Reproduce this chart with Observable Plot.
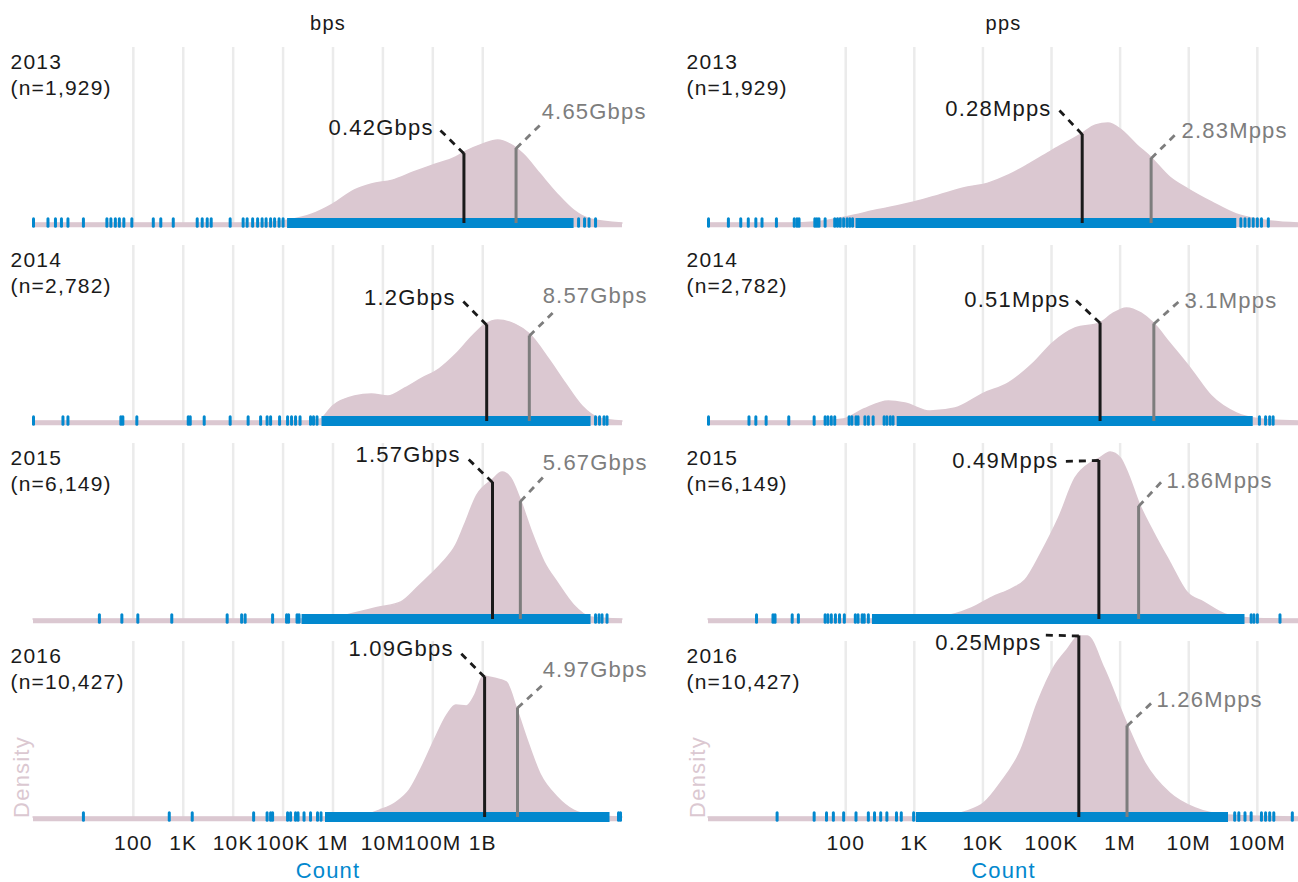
<!DOCTYPE html>
<html><head><meta charset="utf-8">
<script src="https://cdn.jsdelivr.net/npm/d3@7"></script>
<script src="https://cdn.jsdelivr.net/npm/@observablehq/plot@0.6"></script>
<style>
html,body{margin:0;padding:0;background:#fff;}
#chart{position:relative;width:1298px;height:882px;overflow:hidden;}
#chart svg{position:absolute;top:0;}
</style></head><body><div id="chart"></div>
<script>
// ---------- data (x values are log10 of the count) ----------
const years = ["2013", "2014", "2015", "2016"];
const counts = ["1,929", "2,782", "6,149", "10,427"];
const bpsTicks = [1e2, 1e3, 1e4, 1e5, 1e6, 1e7, 1e8, 1e9];
const ppsTicks = [1e2, 1e3, 1e4, 1e5, 1e6, 1e7, 1e8];
const tickLabels = ["100", "1K", "10K", "100K", "1M", "10M", "100M", "1B"];

// density curves: [log10 count, density]
const bpsDensity2013 = [[0,0],[4.5,0],[5.09,.009],[5.59,.03],[6.0,.063],[6.44,.11],[6.78,.13],[7.2,.143],[7.62,.17],[8.0,.193],[8.47,.22],[8.64,.237],[9.0,.263],[9.31,.277],[9.56,.263],[9.82,.23],[10.16,.163],[10.5,.097],[10.83,.043],[11.17,.013],[11.8,0]];
const bpsDensity2014 = [[0,0],[5.5,0],[5.76,.007],[6.0,.05],[6.44,.083],[6.78,.09],[7.11,.083],[7.45,.11],[7.79,.143],[8.13,.173],[8.47,.223],[8.8,.283],[9.06,.323],[9.31,.337],[9.65,.323],[9.95,.29],[10.33,.207],[10.66,.127],[11.0,.05],[11.34,.01],[11.8,0]];
const bpsDensity2015 = [[0,0],[5.7,0],[6.0,.004],[6.52,.023],[6.94,.04],[7.37,.057],[7.71,.107],[7.96,.147],[8.21,.19],[8.47,.247],[8.64,.313],[8.89,.413],[9.19,.463],[9.4,.49],[9.57,.47],[9.75,.403],[9.99,.29],[10.24,.19],[10.5,.123],[10.83,.047],[11.17,.007],[11.8,0]];
const bpsDensity2016 = [[0,0],[6.3,0],[6.52,.003],[6.94,.023],[7.28,.05],[7.54,.09],[7.79,.167],[8.04,.257],[8.3,.343],[8.47,.373],[8.68,.37],[8.85,.407],[9.02,.47],[9.23,.463],[9.48,.45],[9.69,.36],[9.9,.257],[10.16,.143],[10.5,.067],[10.83,.023],[11.17,.007],[11.8,0]];
const ppsDensity2013 = [[0,0],[1.2,0],[1.55,.003],[2.0,.02],[2.45,.043],[3.0,.07],[3.36,.093],[3.72,.117],[4.08,.133],[4.38,.16],[4.68,.197],[5.02,.243],[5.44,.297],[5.65,.327],[5.83,.333],[6.01,.313],[6.25,.26],[6.45,.22],[6.73,.153],[7.0,.113],[7.34,.07],[7.7,.03],[8.0,.013],[8.6,0]];
const ppsDensity2014 = [[0,0],[1.6,0],[1.97,.007],[2.27,.04],[2.63,.067],[2.87,.06],[3.24,.033],[3.6,.043],[4.02,.093],[4.38,.127],[4.74,.193],[5.02,.26],[5.35,.31],[5.71,.327],[5.89,.357],[6.1,.377],[6.31,.36],[6.49,.327],[6.73,.26],[7.04,.173],[7.34,.083],[7.7,.027],[8.06,.007],[8.6,0]];
const ppsDensity2015 = [[0,0],[2.4,0],[2.75,.002],[3.36,.007],[3.84,.037],[4.14,.073],[4.44,.103],[4.62,.13],[4.86,.223],[5.11,.337],[5.35,.47],[5.59,.523],[5.71,.537],[5.86,.557],[6.01,.537],[6.13,.48],[6.28,.387],[6.49,.29],[6.73,.19],[6.98,.09],[7.22,.057],[7.58,.013],[8.0,.002],[8.6,0]];
const ppsDensity2016 = [[0,0],[3.0,0],[3.36,.003],[3.78,.02],[4.02,.047],[4.26,.113],[4.56,.223],[4.8,.38],[5.05,.503],[5.23,.557],[5.41,.603],[5.53,.603],[5.77,.497],[6.1,.313],[6.37,.18],[6.73,.08],[7.1,.03],[7.58,.007],[8.6,0]];

// rug: isolated observations (log10) and the dense continuous stretch
const bpsRug2013 = [0,0.29,0.44,0.56,0.69,1.0,1.47,1.55,1.64,1.72,1.81,1.97,2.4,2.55,2.8,3.28,3.38,3.48,3.56,3.94,4.2,4.28,4.39,4.49,4.58,4.66,4.75,4.83,4.92,5.0,10.92,11.04,11.13,11.26];
const bpsRug2014 = [0,0.59,0.69,1.75,1.79,2.07,3.1,3.14,3.42,3.94,4.3,4.55,4.68,4.75,4.93,5.09,5.17,5.25,5.34,5.55,5.61,5.68,11.26,11.34,11.43,11.49];
const bpsRug2015 = [1.32,1.77,2.09,2.77,3.88,4.17,4.24,4.79,5.07,5.11,5.28,5.32,11.26,11.33,11.39,11.49];
const bpsRug2016 = [1.0,2.72,3.18,4.41,4.68,4.75,4.79,5.09,5.15,5.25,5.3,5.42,5.55,5.69,5.76,11.72,11.76];
const bpsRugDense = [[5.09,10.83],[5.78,11.17],[5.38,11.17],[5.85,11.55]];
const ppsRug2013 = [0,0.29,0.47,0.58,0.69,0.78,0.99,1.25,1.29,1.32,1.55,1.58,1.61,1.7,1.84,1.88,1.92,1.97,2.02,2.06,2.1,7.76,7.82,7.88,7.94,8.0,8.06,8.16];
const ppsRug2014 = [0,0.59,0.69,0.84,1.17,1.54,1.7,1.74,1.79,1.84,2.05,2.09,2.15,2.18,2.28,2.33,2.4,2.56,2.6,2.65,2.69,8.03,8.12,8.18,8.23];
const ppsRug2015 = [0.7,0.94,0.97,1.22,1.31,1.7,1.74,1.79,1.85,1.91,1.98,2.14,2.18,2.24,2.27,2.33,7.91,7.95,8.0,8.33];
const ppsRug2016 = [1.0,1.54,1.72,1.82,1.97,2.15,2.33,2.42,2.51,2.6,2.74,2.81,2.99,7.67,7.73,7.82,7.91,8.06,8.12,8.18,8.24,8.51];
const ppsRugDense = [[2.15,7.7],[2.75,7.94],[2.39,7.82],[3.03,7.58]];

// medians and means
const bpsMedian = [0.42e9, 1.2e9, 1.57e9, 1.09e9];
const bpsMean = [4.65e9, 8.57e9, 5.67e9, 4.97e9];
const bpsMedianText = ["0.42Gbps", "1.2Gbps", "1.57Gbps", "1.09Gbps"];
const bpsMeanText = ["4.65Gbps", "8.57Gbps", "5.67Gbps", "4.97Gbps"];
const bpsMedianDensity = [.233, .322, .457, .468];
const bpsMeanDensity = [.25, .285, .393, .365];
const ppsMedian = [0.28e6, 0.51e6, 0.49e6, 0.25e6];
const ppsMean = [2.83e6, 3.1e6, 1.86e6, 1.26e6];
const ppsMedianText = ["0.28Mpps", "0.51Mpps", "0.49Mpps", "0.25Mpps"];
const ppsMeanText = ["2.83Mpps", "3.1Mpps", "1.86Mpps", "1.26Mpps"];
const ppsMedianDensity = [.297, .328, .53, .605];
const ppsMeanDensity = [.217, .325, .377, .305];

// label leader ends and label anchors: [log10 count, density]
const bpsMedianLeader = [[8.136,.313],[8.597,.402],[8.677,.54],[8.557,.548]];
const bpsMedianLabelAt = [[8.016,.317],[8.457,.412],[8.557,.547],[8.417,.562]];
const bpsMeanLeader = [[10.18,.333],[10.4,.362],[10.24,.48],[10.2,.442]];
const bpsMeanLabelAt = [[10.18,.373],[10.2,.418],[10.2,.523],[10.2,.492]];
const ppsMedianLeader = [[5.102,.38],[5.35,.405],[5.146,.527],[4.898,.608]];
const ppsMedianLabelAt = [[5.0,.383],[5.277,.405],[5.102,.527],[4.854,.582]];
const ppsMeanLeader = [[6.808,.297],[6.866,.402],[6.618,.463],[6.472,.385]];
const ppsMeanLabelAt = [[6.895,.307],[6.939,.402],[6.676,.463],[6.531,.392]];

// ---------- drawing ----------
const PINK = "#dbc8d1", BLUE = "#0288ce", DARK = "#1a1a1a", GREY = "#7d7d7d";
const FONT = "'Liberation Sans', Arial, sans-serif";
const Y_TOP = 176 / 300, Y_BOTTOM = -9 / 300;

function column(cfg) {
  const density = cfg.density.flatMap((arr, i) => arr.map(([e, d]) => ({year: years[i], x: 10 ** e, d})));
  const rug = cfg.rug.flatMap((arr, i) => arr.map(e => ({year: years[i], x: 10 ** e})));
  const dense = cfg.dense.map(([a, b], i) => ({year: years[i], x1: 10 ** a, x2: 10 ** b}));
  const stats = years.map((year, i) => ({
    year,
    med: cfg.median[i], medD: cfg.medianDensity[i], medText: cfg.medianText[i],
    mean: cfg.mean[i], meanD: cfg.meanDensity[i], meanText: cfg.meanText[i],
    medLX: 10 ** cfg.medianLeader[i][0], medLY: cfg.medianLeader[i][1],
    medTX: 10 ** cfg.medianLabelAt[i][0], medTY: cfg.medianLabelAt[i][1],
    meanLX: 10 ** cfg.meanLeader[i][0], meanLY: cfg.meanLeader[i][1],
    meanTX: 10 ** cfg.meanLabelAt[i][0], meanTY: cfg.meanLabelAt[i][1]
  }));
  const fmt = new Map(cfg.ticks.map((t, i) => [t, tickLabels[i]]));
  const xMax = 10 ** cfg.xMaxLog;
  return Plot.plot({
    width: cfg.width, height: 882,
    marginTop: 46, marginBottom: 55.5, marginLeft: cfg.marginLeft, marginRight: cfg.marginRight,
    style: {fontFamily: FONT, fontSize: "21px", color: DARK, background: "transparent", overflow: "visible", letterSpacing: "1.2px"},
    x: {type: "log", domain: [1, xMax], ticks: cfg.ticks, tickFormat: d => fmt.get(d), tickSize: 0, tickPadding: 9, label: null},
    y: {domain: [Y_BOTTOM, Y_TOP], axis: null},
    fy: {domain: years, axis: null, paddingInner: 0.068, paddingOuter: 0},
    marks: [
      Plot.ruleX(cfg.ticks, {x: d => d, y1: 0, y2: Y_TOP, stroke: "#ebebeb", strokeWidth: 2.5}),
      Plot.ruleY([0], {y: -1.5 / 300, x1: 1, x2: xMax, stroke: PINK, strokeWidth: 4.5}),
      Plot.areaY(density, {x: "x", y: "d", fy: "year", fill: PINK, stroke: PINK, strokeWidth: 1.5, curve: "monotone-x"}),
      Plot.ruleY(dense, {y: 0.5 / 300, x1: "x1", x2: "x2", fy: "year", stroke: BLUE, strokeWidth: 10}),
      Plot.ruleX(rug, {x: "x", y1: -3.2 / 300, y2: 4.2 / 300, fy: "year", stroke: BLUE, strokeWidth: 3, strokeLinecap: "round"}),
      Plot.ruleX(stats, {x: "med", y1: 0, y2: "medD", fy: "year", stroke: DARK, strokeWidth: 3}),
      Plot.ruleX(stats, {x: "mean", y1: 0, y2: "meanD", fy: "year", stroke: GREY, strokeWidth: 3}),
      Plot.link(stats, {x1: "med", y1: "medD", x2: "medLX", y2: "medLY", fy: "year", stroke: DARK, strokeWidth: 2.8, strokeDasharray: "7,6"}),
      Plot.link(stats, {x1: "mean", y1: "meanD", x2: "meanLX", y2: "meanLY", fy: "year", stroke: GREY, strokeWidth: 2.8, strokeDasharray: "7,6"}),
      Plot.text(stats, {x: "medTX", y: "medTY", text: "medText", fy: "year", textAnchor: "end", lineAnchor: "middle", fill: DARK, fontSize: 22}),
      Plot.text(stats, {x: "meanTX", y: "meanTY", text: "meanText", fy: "year", textAnchor: "start", lineAnchor: "middle", fill: GREY, fontSize: 22}),
      Plot.text(years, {fy: d => d, text: (d, i) => `${d}\n(n=${counts[i]})`, frameAnchor: "top-left", dx: cfg.labelDx, dy: 3, lineAnchor: "top", textAnchor: "start", lineHeight: 1.24, fontSize: 21, fill: DARK}),
      Plot.text([cfg.title], {fy: () => "2013", frameAnchor: "top", dy: -24, lineAnchor: "middle", textAnchor: "middle", fontSize: 20, fill: DARK}),
      Plot.text(["Count"], {fy: () => "2016", frameAnchor: "bottom", dy: 44, lineAnchor: "middle", textAnchor: "middle", fontSize: 22, fill: BLUE}),
      Plot.text(["Density"], {fy: () => "2016", frameAnchor: "bottom-left", dx: cfg.densityDx, dy: -49.5, rotate: -90, lineAnchor: "middle", textAnchor: "middle", fontSize: 22, fill: PINK})
    ]
  });
}

const left = column({
  title: "bps", width: 650, marginLeft: 33, marginRight: 28, xMaxLog: 11.8, ticks: bpsTicks,
  density: [bpsDensity2013, bpsDensity2014, bpsDensity2015, bpsDensity2016],
  rug: [bpsRug2013, bpsRug2014, bpsRug2015, bpsRug2016], dense: bpsRugDense,
  median: bpsMedian, medianDensity: bpsMedianDensity, medianText: bpsMedianText,
  mean: bpsMean, meanDensity: bpsMeanDensity, meanText: bpsMeanText,
  medianLeader: bpsMedianLeader, medianLabelAt: bpsMedianLabelAt,
  meanLeader: bpsMeanLeader, meanLabelAt: bpsMeanLabelAt,
  labelDx: -23, densityDx: -12
});
const right = column({
  title: "pps", width: 648, marginLeft: 58, marginRight: 0, xMaxLog: 8.6, ticks: ppsTicks,
  density: [ppsDensity2013, ppsDensity2014, ppsDensity2015, ppsDensity2016],
  rug: [ppsRug2013, ppsRug2014, ppsRug2015, ppsRug2016], dense: ppsRugDense,
  median: ppsMedian, medianDensity: ppsMedianDensity, medianText: ppsMedianText,
  mean: ppsMean, meanDensity: ppsMeanDensity, meanText: ppsMeanText,
  medianLeader: ppsMedianLeader, medianLabelAt: ppsMedianLabelAt,
  meanLeader: ppsMeanLeader, meanLabelAt: ppsMeanLabelAt,
  labelDx: -22, densityDx: -11
});
left.style.left = "0px";
right.style.left = "650px";
const chart = document.getElementById("chart");
chart.appendChild(left);
chart.appendChild(right);
</script></body></html>
